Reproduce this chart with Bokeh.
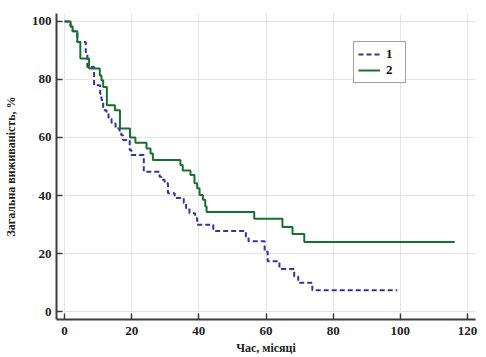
from bokeh.plotting import figure
from bokeh.embed import file_html
from bokeh.resources import INLINE
from bokeh.models import Legend, LegendItem

# Group 1 (dashed blue) Kaplan-Meier steps
g1_time = [0, 1.8, 2.4, 3.8, 6.3, 6.8, 8.8, 10.6, 11.0, 11.5, 12.5, 13.1, 14.0, 15.2, 16.4, 16.9,
           17.4, 19.4, 19.9, 23.6, 28.3, 28.8, 29.8, 30.8, 32.8, 35.5, 36.2, 37.2, 38.9, 39.5,
           44.3, 54.0, 54.8, 59.6, 60.5, 64.0, 68.4, 69.6, 73.8]
g1_surv = [100, 98.3, 96.6, 92.9, 89.4, 84.3, 78.0, 75.1, 72.9, 69.4, 68.3, 66.5, 64.8, 63.1, 61.9,
           60.8, 59.1, 55.7, 54.0, 48.2, 46.5, 45.4, 44.2, 40.8, 39.1, 37.4, 35.6, 33.9, 32.2, 29.9,
           27.8, 25.9, 24.2, 20.6, 17.3, 14.7, 12.1, 9.9, 7.3]
g1_end = 99.1

# Group 2 (solid green)
g2_time = [0, 1.8, 2.4, 3.8, 4.7, 7.3, 10.5, 11.0, 11.5, 12.6, 15.0, 16.5, 19.5, 21.1, 24.4,
           25.6, 26.3, 34.5, 35.2, 37.5, 38.7, 39.5, 40.2, 41.2, 41.9, 42.3, 56.5, 64.9, 67.9, 71.4]
g2_surv = [100, 98.3, 96.6, 92.9, 87.2, 83.8, 81.4, 79.7, 77.4, 71.1, 69.4, 63.1, 60.0, 58.2, 56.2,
           54.5, 52.2, 50.5, 48.6, 47.1, 44.2, 42.5, 40.2, 38.5, 36.2, 34.3, 32.0, 29.1, 26.7, 24.0]
g2_end = 116.2

x_ticks = [0, 20, 40, 60, 80, 100, 120]
y_ticks = [0, 20, 40, 60, 80, 100]
legend_labels = ["1", "2"]

FONT = "Liberation Serif"
AXIS_COL = "#3c3c3c"

p = figure(width=486, height=357, output_backend="svg", toolbar_location=None,
           x_range=(-2.4, 122.4), y_range=(-2.75, 102.75),
           min_border_left=55, min_border_right=11, min_border_top=13, min_border_bottom=37)
p.outline_line_color = None
p.background_fill_color = "white"
p.border_fill_color = "white"

x1 = g1_time + [g1_end]
y1 = g1_surv + [g1_surv[-1]]
x2 = g2_time + [g2_end]
y2 = g2_surv + [g2_surv[-1]]

r1 = p.step(x1, y1, mode="after", line_color="#34349a", line_width=2, line_dash="5 3")
r2 = p.step(x2, y2, mode="after", line_color="#17702f", line_width=2)

for ax in (p.xaxis[0], p.yaxis[0]):
    ax.axis_line_color = AXIS_COL
    ax.axis_line_width = 2
    ax.major_tick_line_color = AXIS_COL
    ax.minor_tick_line_color = AXIS_COL
    ax.major_tick_line_width = 1.5
    ax.minor_tick_line_width = 1.2
    ax.major_tick_in = 6
    ax.major_tick_out = 0
    ax.minor_tick_in = 4
    ax.minor_tick_out = 0
    ax.major_label_text_font = FONT
    ax.major_label_text_font_style = "bold"
    ax.major_label_text_font_size = "13px"
    ax.major_label_text_color = "#222222"
    ax.axis_label_text_font = FONT
    ax.axis_label_text_font_style = "bold"
    ax.axis_label_text_font_size = "12px"
    ax.axis_label_text_color = "#222222"

p.xaxis.ticker = x_ticks
p.yaxis.ticker = y_ticks
p.xaxis[0].ticker.num_minor_ticks = 2
p.yaxis[0].ticker.num_minor_ticks = 2
p.xaxis.major_label_standoff = 7
p.yaxis.major_label_standoff = 5
p.xaxis.axis_label = "Час, місяці"
p.yaxis.axis_label = "Загальна виживаність, %"
p.xaxis.axis_label_standoff = 3
p.yaxis.axis_label_standoff = 11

p.xgrid.grid_line_color = "#e4e4e4"
p.ygrid.grid_line_color = "#e4e4e4"
p.xgrid.grid_line_width = 1
p.ygrid.grid_line_width = 1

legend = Legend(items=[LegendItem(label=legend_labels[0], renderers=[r1]),
                       LegendItem(label=legend_labels[1], renderers=[r2])],
                location=(297, 236), margin=0, padding=4, spacing=0,
                label_height=14, glyph_height=14, glyph_width=22, label_width=15,
                label_standoff=6, label_text_font=FONT, label_text_font_style="bold",
                label_text_font_size="13px", label_text_color="#111111",
                border_line_color="#444444", border_line_width=1.5,
                background_fill_color="white", background_fill_alpha=1)
p.add_layout(legend)

open("out.html", "w").write(file_html(p, INLINE))
